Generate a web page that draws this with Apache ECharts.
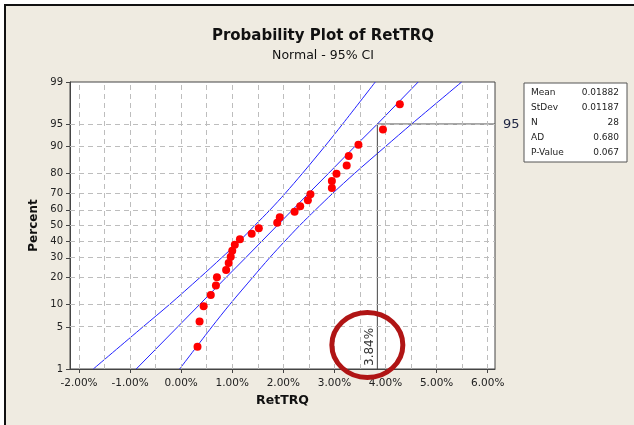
<!DOCTYPE html>
<html>
<head>
<meta charset="utf-8">
<script src="https://cdn.jsdelivr.net/npm/echarts@6/dist/echarts.min.js"></script>
<style>
  html, body { margin: 0; padding: 0; background: #fff; overflow: hidden; width: 634px; height: 425px; }
  #bg { position: absolute; left: 6px; top: 6px; right: 0; bottom: 0; background: #efebe1; }
  #edgeL { position: absolute; left: 4px; top: 4px; width: 2px; bottom: 0; background: #111; }
  #edgeT { position: absolute; left: 4px; top: 4px; height: 2px; right: 0; background: #111; }
  #chart { position: absolute; left: 0; top: 0; width: 634px; height: 425px; }
</style>
</head>
<body>
<div id="bg"></div>
<div id="edgeL"></div>
<div id="edgeT"></div>
<div id="chart"></div>
<script>
// plotted points: percent (median rank) and RetTRQ value in %
const pointPct = [2.46, 5.99, 9.51, 13.03, 16.55, 20.07, 23.59, 27.11, 30.63, 34.15,
  37.68, 41.20, 44.72, 48.24, 51.76, 55.28, 58.80, 62.32, 65.85, 69.37,
  72.89, 76.41, 79.93, 83.45, 86.97, 90.49, 94.01, 97.54];
const pointRet = [0.32, 0.36, 0.44, 0.58, 0.68, 0.70, 0.88, 0.93, 0.97, 1.00,
  1.05, 1.15, 1.38, 1.52, 1.88, 1.93, 2.22, 2.33, 2.48, 2.53,
  2.95, 2.95, 3.04, 3.24, 3.28, 3.47, 3.95, 4.28];

// fitted line and 95% CI bands, read at the percent gridlines
const bandPct = [1, 5, 10, 20, 30, 40, 50, 60, 70, 80, 90, 95, 99];
const lowerBand = [-1.72, -0.75, -0.23, 0.37, 0.79, 1.14, 1.44, 1.74, 2.04, 2.37, 2.81, 3.16, 3.80];
const fitLine = [-0.88, -0.07, 0.36, 0.88, 1.26, 1.58, 1.88, 2.18, 2.50, 2.88, 3.40, 3.84, 4.64];
const upperBand = [-0.03, 0.60, 0.95, 1.40, 1.73, 2.03, 2.32, 2.63, 2.97, 3.39, 4.00, 4.51, 5.49];

const pctTicks = [1, 5, 10, 20, 30, 40, 50, 60, 70, 80, 90, 95, 99];
const retTicks = [-2, -1, 0, 1, 2, 3, 4, 5, 6];
const retGrid = [-2, -1.5, -1, -0.5, 0, 0.5, 1, 1.5, 2, 2.5, 3, 3.5, 4, 4.5, 5, 5.5, 6];

const statNames = ['Mean', 'StDev', 'N', 'AD', 'P-Value'];
const statValues = ['0.01882', '0.01187', '28', '0.680', '0.067'];

const refPct = 95;
const refRet = 3.84;

const FONT = 'DejaVu Sans';

// inverse normal cdf (probability scale)
function probit(p) {
  const a = [-3.969683028665376e+01, 2.209460984245205e+02, -2.759285104469687e+02, 1.383577518672690e+02, -3.066479806614716e+01, 2.506628277459239e+00];
  const b = [-5.447609879822406e+01, 1.615858368580409e+02, -1.556989798598866e+02, 6.680131188771972e+01, -1.328068155288572e+01];
  const c = [-7.784894002430293e-03, -3.223964580411365e-01, -2.400758277161838e+00, -2.549732539343734e+00, 4.374664141464968e+00, 2.938163982698783e+00];
  const d = [7.784695709041462e-03, 3.224671290700398e-01, 2.445134137142996e+00, 3.754408661907416e+00];
  if (p < 0.02425) {
    const q = Math.sqrt(-2 * Math.log(p));
    return (((((c[0] * q + c[1]) * q + c[2]) * q + c[3]) * q + c[4]) * q + c[5]) /
      ((((d[0] * q + d[1]) * q + d[2]) * q + d[3]) * q + 1);
  }
  const q = p - 0.5, r = q * q;
  return (((((a[0] * r + a[1]) * r + a[2]) * r + a[3]) * r + a[4]) * r + a[5]) * q /
    (((((b[0] * r + b[1]) * r + b[2]) * r + b[3]) * r + b[4]) * r + 1);
}
function zOf(pct) {
  return pct > 50 ? -probit((100 - pct) / 100) : probit(pct / 100);
}

const yMin = zOf(1);
const yMax = zOf(99);
const xMin = -2.176;
const xMax = 6.143;

const chart = echarts.init(document.getElementById('chart'));

const option = {
  animation: false,
  title: {
    text: 'Probability Plot of RetTRQ',
    subtext: 'Normal - 95% CI',
    left: 318,
    textAlign: 'center',
    top: 24,
    itemGap: 5,
    textStyle: {fontFamily: FONT, fontWeight: 'bold', fontSize: 15, color: '#111'},
    subtextStyle: {fontFamily: FONT, fontSize: 12.5, color: '#111'},
  },
  grid: {
    left: 70, top: 82, right: 139, bottom: 56,
    show: true, backgroundColor: '#fff', borderColor: '#444', borderWidth: 1,
  },
  xAxis: {
    type: 'value', min: xMin, max: xMax,
    name: 'RetTRQ', nameLocation: 'middle', nameGap: 25,
    nameTextStyle: {fontFamily: FONT, fontWeight: 'bold', fontSize: 12.5, color: '#111'},
    axisLine: {show: true, onZero: false, lineStyle: {color: '#444'}},
    axisTick: {show: true, length: 4, customValues: retTicks, lineStyle: {color: '#444'}},
    axisLabel: {
      customValues: retTicks, margin: 9, fontFamily: FONT, fontSize: 10.5, color: '#222',
      formatter: (v) => v.toFixed(2) + '%',
    },
    splitLine: {show: false},
  },
  yAxis: {
    type: 'value', min: yMin, max: yMax,
    name: 'Percent', nameLocation: 'middle', nameGap: 30,
    nameTextStyle: {fontFamily: FONT, fontWeight: 'bold', fontSize: 12, color: '#111'},
    axisLine: {show: true, onZero: false, lineStyle: {color: '#444'}},
    axisTick: {show: true, length: 4, customValues: pctTicks.map(zOf), lineStyle: {color: '#444'}},
    axisLabel: {
      customValues: pctTicks.map(zOf), margin: 7, fontFamily: FONT, fontSize: 10, color: '#222',
      formatter: (v) => {
        let best = pctTicks[0];
        pctTicks.forEach((p) => {
          if (Math.abs(zOf(p) - v) < Math.abs(zOf(best) - v)) best = p;
        });
        return String(best);
      },
    },
    splitLine: {show: false},
  },
  series: [
    {
      name: 'grid', type: 'line', data: [], silent: true, z: 1,
      markLine: {
        symbol: 'none', silent: true, label: {show: false},
        lineStyle: {color: '#bdbdbd', type: [5, 4], width: 1},
        data: retGrid.map((v) => ({xAxis: v})).concat(pctTicks.map((p) => ({yAxis: zOf(p)}))),
      },
    },
    {
      name: 'lower', type: 'line', smooth: 0.3, symbol: 'none', z: 3,
      lineStyle: {color: '#2020ff', width: 1},
      data: bandPct.map((p, i) => [lowerBand[i], zOf(p)]),
    },
    {
      name: 'fit', type: 'line', symbol: 'none', z: 3,
      lineStyle: {color: '#2020ff', width: 1},
      data: bandPct.map((p, i) => [fitLine[i], zOf(p)]),
    },
    {
      name: 'upper', type: 'line', smooth: 0.3, symbol: 'none', z: 3,
      lineStyle: {color: '#2020ff', width: 1},
      data: bandPct.map((p, i) => [upperBand[i], zOf(p)]),
    },
    {
      name: 'ref', type: 'line', symbol: 'none', z: 4,
      lineStyle: {color: '#444', width: 1},
      data: [[xMax, zOf(refPct)], [refRet, zOf(refPct)], [refRet, yMin]],
    },
    {
      name: 'RetTRQ', type: 'scatter', symbolSize: 8, z: 5,
      itemStyle: {color: '#ff0000', opacity: 1},
      data: pointRet.map((x, i) => [x, zOf(pointPct[i])]),
    },
  ],
};

chart.setOption(option);

// annotations placed from the chart's own scales
const refPx = chart.convertToPixel({gridIndex: 0}, [refRet, zOf(refPct)]);
const botPx = chart.convertToPixel({gridIndex: 0}, [refRet, yMin]);
const rightPx = chart.convertToPixel({gridIndex: 0}, [xMax, yMax]);

const boxX = 524, boxY = 83, boxW = 103, boxH = 79;
const statEls = [{
  type: 'rect', shape: {x: boxX, y: boxY, width: boxW, height: boxH},
  style: {fill: '#fff', stroke: '#555', lineWidth: 1},
}];
statNames.forEach((n, i) => {
  statEls.push({
    type: 'text', x: boxX + 7, y: boxY + 10 + i * 15,
    style: {text: n, fontFamily: FONT, fontSize: 9, fill: '#222', textVerticalAlign: 'middle'},
  });
  statEls.push({
    type: 'text', x: boxX + boxW - 8, y: boxY + 10 + i * 15,
    style: {text: statValues[i], fontFamily: FONT, fontSize: 9, fill: '#222',
      textAlign: 'right', textVerticalAlign: 'middle'},
  });
});

chart.setOption({
  graphic: [
    {
      type: 'text', x: rightPx[0] + 8, y: refPx[1] + 1,
      style: {text: String(refPct), fontFamily: FONT, fontSize: 13, fill: '#1c2340',
        textVerticalAlign: 'middle'},
    },
    {
      type: 'text', x: refPx[0] - 7, y: botPx[1] - 3, rotation: Math.PI / 2,
      style: {text: refRet.toFixed(2) + '%', fontFamily: FONT, fontSize: 12, fill: '#333',
        textAlign: 'left', textVerticalAlign: 'middle'},
    },
    {
      type: 'ellipse', shape: {cx: refPx[0] - 10, cy: 345, rx: 35.5, ry: 32.5},
      style: {fill: 'none', stroke: '#b01515', lineWidth: 5}, z: 10,
    },
  ].concat(statEls),
});
</script>
</body>
</html>
